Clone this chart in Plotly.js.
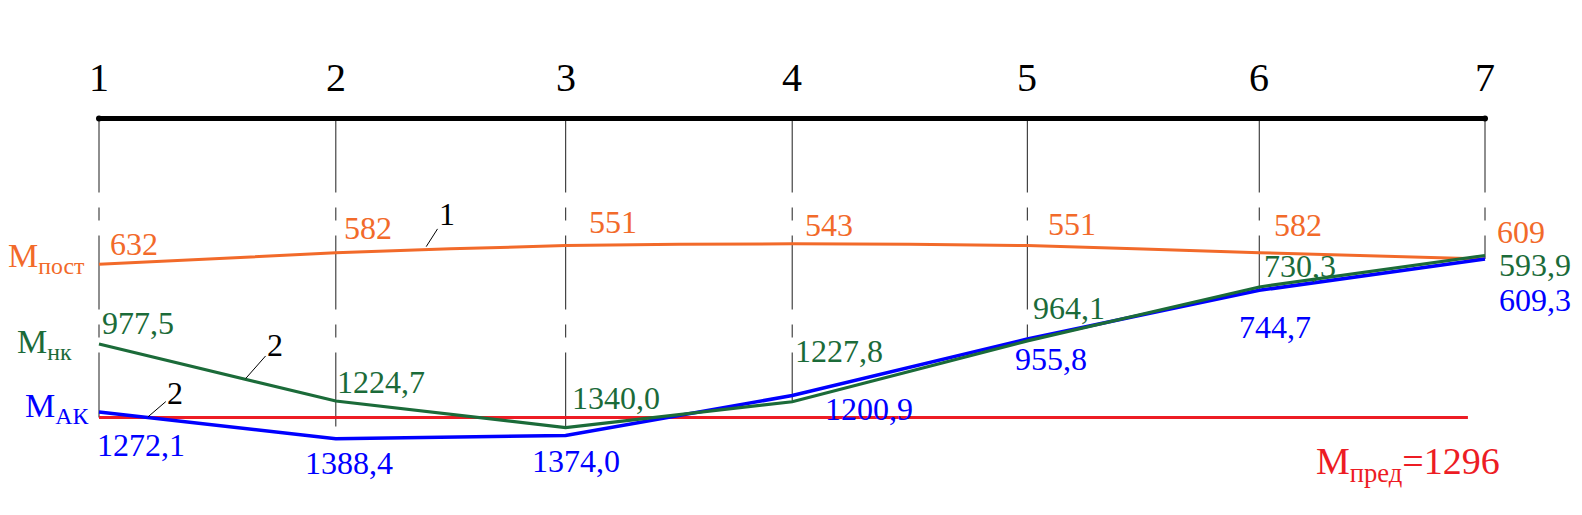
<!DOCTYPE html>
<html>
<head>
<meta charset="utf-8">
<script src="https://cdn.plot.ly/plotly-3.0.1.min.js"></script>
<style>html,body{margin:0;padding:0;background:#fff;}#chart{width:1582px;height:515px;}</style>
</head>
<body>
<div id="chart"></div>
<script>
// ---- data ----
const nodeNames = ['1', '2', '3', '4', '5', '6', '7'];
const nodePos   = [0, 1.025, 2.020, 3.001, 4.019, 5.023, 6.0];
const mPost = [632, 582, 551, 543, 551, 582, 609];
const mNK   = [977.5, 1224.7, 1340.0, 1227.8, 964.1, 730.3, 593.9];
const mAK   = [1272.1, 1388.4, 1374.0, 1200.9, 955.8, 744.7, 609.3];
const mPred = 1296;

// ---- styles ----
const FONT = '"Liberation Serif", "Times New Roman", "DejaVu Serif", serif';
const C_POST = '#F26A2A', C_NK = '#1B6B39', C_AK = '#0000FF', C_PRED = '#ED1C24';
// label offsets (px) per node: [xshift, yshift]
const postShift = [[9,20.3],[6,24.3],[21,23.6],[10.5,18.8],[18.4,21.6],[12.4,27.3],[10,27]];
const nkShift   = [[1,21],[-1,19],[4.4,30.1],[1,50.8],[3.3,33.4],[2.4,20.5],[11.7,-9]];
const akShift   = [[-4,-33],[-32.8,-24.2],[-35.6,-25.5],[30.5,-13],[-14.4,-19.5],[-22.6,-36.2],[11.7,-41]];

const fmt1 = v => v.toFixed(1).replace('.', ',');
const lerp = (arr, i, f) => arr[i] + (arr[i+1] - arr[i]) * f;
const xAt = (i, f) => nodePos[i] + (nodePos[i+1] - nodePos[i]) * f;

const traces = [];
// vertical drop lines
nodePos.forEach((x, i) => {
  let end = Math.max(mAK[i], mNK[i]);
  if (i === 0) end = Math.max(end, mPred);
  traces.push({x: [x, x], y: [0, end], mode: 'lines', hoverinfo: 'skip',
    line: {color: '#444', width: 1.2, dash: '74px,15px,13px,15px'}});
});
// beam
traces.push({x: [nodePos[0], nodePos[nodePos.length-1]], y: [0, 0], mode: 'lines+markers',
  line: {color: '#000', width: 5}, marker: {color: '#000', size: 6}, hoverinfo: 'skip'});
// limit line
const redEnd = nodePos[nodePos.length-1] - 0.074;
traces.push({x: [nodePos[0], redEnd], y: [mPred, mPred], mode: 'lines',
  line: {color: C_PRED, width: 3}, hoverinfo: 'skip'});
// series
traces.push({x: nodePos, y: mPost, mode: 'lines', line: {color: C_POST, width: 3, shape: 'spline', smoothing: 0.6}});
traces.push({x: nodePos, y: mAK, mode: 'lines', line: {color: C_AK, width: 3.6}});
traces.push({x: nodePos, y: mNK, mode: 'lines', line: {color: C_NK, width: 3.2}});

const ann = [];
nodePos.forEach((x, i) => {
  ann.push({x, y: 0, text: nodeNames[i], showarrow: false, xanchor: 'center', yanchor: 'middle',
    yshift: 41, font: {family: FONT, size: 40, color: '#000'}});
  ann.push({x, y: mPost[i], text: String(mPost[i]), showarrow: false, xanchor: 'left', yanchor: 'middle',
    xshift: postShift[i][0], yshift: postShift[i][1], font: {family: FONT, size: 32, color: C_POST}});
  ann.push({x, y: mNK[i], text: fmt1(mNK[i]), showarrow: false, xanchor: 'left', yanchor: 'middle',
    xshift: nkShift[i][0], yshift: nkShift[i][1], font: {family: FONT, size: 32, color: C_NK}});
  ann.push({x, y: mAK[i], text: fmt1(mAK[i]), showarrow: false, xanchor: 'left', yanchor: 'middle',
    xshift: akShift[i][0], yshift: akShift[i][1], font: {family: FONT, size: 32, color: C_AK}});
});
// series names
ann.push({x: nodePos[0], y: mPost[0], text: 'M<sub>пост</sub>', showarrow: false, xanchor: 'right', yanchor: 'middle',
  xshift: -12, yshift: 6, font: {family: FONT, size: 34, color: C_POST}});
ann.push({x: nodePos[0], y: mNK[0], text: 'M<sub>нк</sub>', showarrow: false, xanchor: 'right', yanchor: 'middle',
  xshift: -25, yshift: 0, font: {family: FONT, size: 34, color: C_NK}});
ann.push({x: nodePos[0], y: mAK[0], text: 'M<sub>АК</sub>', showarrow: false, xanchor: 'right', yanchor: 'middle',
  xshift: -9, yshift: 4, font: {family: FONT, size: 34, color: C_AK}});
ann.push({x: redEnd, y: mPred, text: 'M<sub>пред</sub>=' + mPred, showarrow: false, xanchor: 'right', yanchor: 'middle',
  xshift: 34, yshift: -47, font: {family: FONT, size: 38, color: C_PRED}});
// leader callouts
const callout = (x, y, t, ax, ay, so) => ({x, y, text: t, showarrow: true, arrowhead: 0, arrowwidth: 1,
  arrowcolor: '#000', ax, ay, standoff: so, font: {family: FONT, size: 32, color: '#000'}});
ann.push(callout(xAt(1, 0.384), lerp(mPost, 1, 0.384), '1', 23, -36, 4));
ann.push(callout(xAt(0, 0.617), lerp(mNK, 0, 0.617), '2', 30, -34, 1));
ann.push(callout(xAt(0, 0.204), lerp(mAK, 0, 0.204), '2', 28, -24, 1));

const k = 0.2307, y0 = 118.5, W = 1582, H = 515, x0 = 99, sx = 231;
const layout = {
  width: W, height: H, margin: {l: 0, r: 0, t: 0, b: 0}, paper_bgcolor: '#fff', plot_bgcolor: '#fff',
  showlegend: false,
  xaxis: {range: [-x0 / sx, (W - x0) / sx], visible: false, fixedrange: true},
  yaxis: {range: [(H - y0) / k, -y0 / k], visible: false, fixedrange: true},
  annotations: ann
};
Plotly.newPlot('chart', traces, layout, {staticPlot: true});
</script>
</body>
</html>
